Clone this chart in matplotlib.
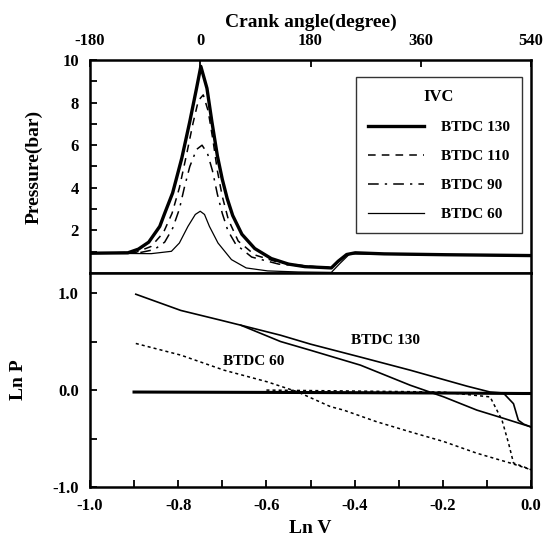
import matplotlib
matplotlib.use("Agg")
import matplotlib.pyplot as plt

plt.rcParams['font.family'] = ['Liberation Serif', 'DejaVu Serif']
plt.rcParams['font.weight'] = 'bold'
plt.rcParams['axes.unicode_minus'] = False

# top panel: pressure vs crank angle
ang130 = [-180, -118, -101, -84, -66, -58, -45, -30, -17, -6, 1, 11, 19, 28, 36, 44, 53, 68, 89, 116, 144, 171, 214, 225, 239, 253, 300, 400, 540]
p130 = [0.93, 0.95, 1.12, 1.45, 2.19, 2.8, 3.76, 5.4, 7.11, 8.67, 9.7, 8.67, 7.11, 5.5, 4.4, 3.5, 2.7, 1.82, 1.15, 0.68, 0.42, 0.3, 0.24, 0.55, 0.87, 0.95, 0.9, 0.86, 0.82]

ang110 = [-180, -105, -80, -60, -46, -34, -22, -12, -3, 5, 13, 21, 28, 36, 46, 62, 89, 128, 170, 214]
p110 = [0.93, 0.97, 1.25, 1.9, 2.8, 4.0, 5.6, 7.0, 8.1, 8.36, 7.6, 6.2, 4.8, 3.6, 2.5, 1.5, 0.85, 0.5, 0.34, 0.24]

ang90 = [-180, -100, -75, -58, -45, -34, -26, -17, -6, 3, 12, 20, 28, 36, 45, 58, 84, 128, 170, 210]
p90 = [0.93, 0.95, 1.1, 1.45, 2.1, 3.0, 4.0, 5.0, 5.8, 6.0, 5.6, 4.8, 3.7, 2.8, 2.0, 1.35, 0.75, 0.42, 0.32, 0.26]

ang60 = [-180, -80, -47, -34, -20, -8, 0, 7, 15, 29, 51, 75, 110, 160, 214, 228, 244, 300, 400, 540]
p60 = [0.93, 0.91, 1.02, 1.41, 2.19, 2.75, 2.9, 2.75, 2.19, 1.41, 0.63, 0.24, 0.1, 0.05, 0.03, 0.45, 0.9, 0.88, 0.85, 0.8]

# bottom panel: ln P vs ln V
lnv130_up = [-0.896, -0.794, -0.704, -0.658, -0.568, -0.5, -0.387, -0.274, -0.145, -0.093, -0.063, -0.04, -0.029, -0.017, 0.0]
lnp130_up = [0.987, 0.82, 0.72, 0.668, 0.565, 0.473, 0.34, 0.205, 0.04, -0.02, -0.03, -0.14, -0.31, -0.35, -0.38]
lnv130_lo = [-0.658, -0.568, -0.5, -0.387, -0.274, -0.198, -0.123, -0.063, 0.0]
lnp130_lo = [0.668, 0.50, 0.41, 0.257, 0.05, -0.07, -0.206, -0.29, -0.38]

lnv_pump = [-0.9, -0.5, -0.2, -0.02, 0.0]
lnp_pump = [-0.02, -0.025, -0.03, -0.035, -0.035]

lnv60_lo = [-0.896, -0.794, -0.696, -0.598, -0.53, -0.455, -0.425, -0.35, -0.274, -0.198, -0.123, -0.048, 0.0]
lnp60_lo = [0.48, 0.36, 0.205, 0.085, -0.017, -0.17, -0.206, -0.326, -0.43, -0.53, -0.65, -0.75, -0.82]
lnv60_up = [-0.6, -0.4, -0.2, -0.093, -0.066, -0.051, -0.04, -0.017, 0.0]
lnp60_up = [0.0, -0.01, -0.02, -0.07, -0.31, -0.55, -0.75, -0.79, -0.82]

fig = plt.figure(figsize=(5.55, 5.45), dpi=100)
ax1 = fig.add_axes([0.162, 0.499, 0.795, 0.391])
ax2 = fig.add_axes([0.162, 0.106, 0.795, 0.393])

ax1.plot(ang130, p130, color='black', lw=2.4, label='BTDC 130')
ax1.plot(ang110, p110, color='black', lw=1.1, ls=(0, (5, 4)), label='BTDC 110')
ax1.plot(ang90, p90, color='black', lw=1.1, ls=(0, (7, 4, 1.5, 4)), label='BTDC 90')
ax1.plot(ang60, p60, color='black', lw=0.9, label='BTDC 60')

ax1.set_xlim(-180, 540)
ax1.set_ylim(0, 10)
ax1.xaxis.tick_top()
ax1.xaxis.set_label_position('top')
ax1.set_xticks([-180, 0, 180, 360, 540])
ax1.set_yticks([2, 4, 6, 8, 10])
ax1.set_yticks([1, 3, 5, 7, 9], minor=True)
ax1.tick_params(axis='both', direction='in', length=5, width=1.3, labelsize=12, pad=8)
ax1.tick_params(axis='y', which='minor', direction='in', length=5, width=1.3)
ax1.set_xlabel('Crank angle(degree)', fontsize=14, fontweight='bold', labelpad=4)
ax1.set_ylabel('Pressure(bar)', fontsize=14, fontweight='bold', labelpad=14)

leg = ax1.legend(title='IVC', loc='upper left', bbox_to_anchor=(0.602, 0.92),
                 fontsize=11, title_fontsize=12, frameon=True, fancybox=False,
                 edgecolor='black', handlelength=3.7, handletextpad=1.1,
                 labelspacing=1.0, borderpad=0.8, borderaxespad=0)
leg.get_frame().set_linewidth(1.0)
leg.get_title().set_fontweight('bold')
for t in leg.get_texts():
    t.set_fontweight('bold')

ax2.plot(lnv_pump, lnp_pump, color='black', lw=2.2)
ax2.plot(lnv130_up, lnp130_up, color='black', lw=1.2)
ax2.plot(lnv130_lo, lnp130_lo, color='black', lw=1.2)
ax2.plot(lnv60_lo, lnp60_lo, color='black', lw=1.1, ls=(0, (2, 2)))
ax2.plot(lnv60_up, lnp60_up, color='black', lw=1.1, ls=(0, (2, 2)))

ax2.text(-0.33, 0.514, 'BTDC 130', fontsize=11, fontweight='bold', ha='center', va='center')
ax2.text(-0.629, 0.29, 'BTDC 60', fontsize=11, fontweight='bold', ha='center', va='center')

ax2.set_xlim(-1.0, 0.0)
ax2.set_ylim(-1.0, 1.205)
ax2.set_xticks([-1.0, -0.8, -0.6, -0.4, -0.2, 0.0])
ax2.set_xticks([-0.9, -0.7, -0.5, -0.3, -0.1], minor=True)
ax2.set_yticks([-1.0, 0.0, 1.0])
ax2.set_yticks([-0.5, 0.5], minor=True)
ax2.set_xticklabels(['-1.0', '-0.8', '-0.6', '-0.4', '-0.2', '0.0'])
ax2.set_yticklabels(['-1.0', '0.0', '1.0'])
ax2.tick_params(axis='both', which='both', direction='in', length=5, width=1.3, labelsize=12, pad=8)
ax2.set_xlabel('Ln V', fontsize=14, fontweight='bold', labelpad=4)
ax2.set_ylabel('Ln P', fontsize=14, fontweight='bold', labelpad=18)

for ax in (ax1, ax2):
    for s in ax.spines.values():
        s.set_linewidth(1.8)

fig.savefig('out.png', dpi=100)
